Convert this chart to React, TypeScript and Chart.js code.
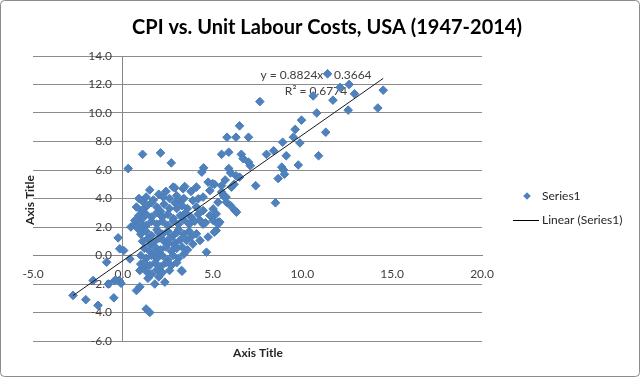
import React, { useEffect, useRef } from 'react';
import { Chart, registerables } from 'chart.js';

Chart.register(...registerables);

const chartTitle = 'CPI vs. Unit Labour Costs, USA (1947-2014)';
const xAxisTitle = 'Axis Title';
const yAxisTitle = 'Axis Title';
const seriesLabel = 'Series1';
const trendLabel = 'Linear (Series1)';

const xAxisMin = -5;
const xAxisMax = 20;
const xAxisStep = 5;
const yAxisMin = -6;
const yAxisMax = 14;
const yAxisStep = 2;

const trendSlope = 0.8824;
const trendIntercept = -0.3664;
const trendRSquared = 0.6774;
const trendXEnds = [-2.77, 14.5];

// Unit labour cost change (x) and CPI change (y)
const ulcGrowth = [
  // lower-left scatter
  -2.77, -2.06, -1.65, -1.38, -0.5, -0.8, -0.45, -0.2, -0.1, -0.9, -0.26, -0.17, 0.05, 0.4, 0.76, 0.95, 1.3, 1.5, 1.78, 2.34, 3.3, 1.13, 0.95,
  // upper-left scatter
  0.3, 1.1, 2.1, 2.7, 4.5, 4.4,
  // middle right
  5.5, 5.9, 5.8, 6.3, 6.5, 7.0, 5.9, 6.0, 6.6, 6.7, 7.0, 7.1, 6.3, 6.5, 5.7, 6.05, 5.5, 5.75, 6.2, 7.4,
  // upper right
  7.63, 8.0, 8.4, 8.9, 9.1, 8.85, 8.95, 9.0, 8.65, 8.5, 9.77, 9.6, 9.5, 9.86, 9.95, 10.8, 11.3, 10.9, 10.6, 11.4, 11.7, 12.1, 12.6, 12.9, 14.5, 14.2, 12.55,
  // cluster right edge
  4.75, 5.1, 5.5, 4.85, 5.6, 5.77, 6.24, 6.0, 5.3, 5.03, 5.03, 5.3, 6.33, 5.68, 5.2, 5.4, 5.2, 4.66, 4.75, 5.1, 5.3, 4.47, 4.3, 3.9, 3.27, 2.6, 5.0,
  // dense cluster
  1.5, 2.4, 2.8, 2.9, 3.36, 3.45, 3.8, 4.1,
  0.9, 1.1, 1.3, 1.7, 2.0, 2.25, 2.6, 3.0, 3.2, 3.4, 3.9, 4.2, 4.47,
  0.76, 1.04, 1.2, 1.35, 1.6, 1.9, 2.1, 2.3, 2.6, 2.9, 3.0, 3.3, 3.6, 4.1, 4.47,
  0.9, 1.1, 1.3, 1.6, 1.9, 2.2, 2.5, 2.8, 3.2, 3.5, 3.8, 4.2, 4.85,
  0.45, 0.67, 0.67, 0.85, 1.0, 1.15, 1.3, 1.6, 1.9, 2.2, 2.5, 2.8, 3.1, 3.4, 3.7, 4.0, 4.3, 4.6,
  1.0, 1.3, 1.6, 1.9, 2.0, 2.2, 2.5, 2.8, 3.0, 3.1, 3.4, 3.7, 4.1,
  1.1, 1.4, 1.5, 1.7, 2.0, 2.3, 2.5, 2.6, 2.9, 3.2, 3.55, 3.8,
  1.2, 1.5, 1.8, 1.9, 2.1, 2.4, 2.7, 2.9, 3.0, 3.3, 3.6,
  1.0, 1.3, 1.6, 1.9, 2.2, 2.5, 2.8, 3.1, 3.4,
  1.0, 1.2, 1.5, 1.8, 2.1, 2.4, 2.7, 3.0,
  1.3, 1.4, 1.6, 1.9, 2.0, 2.2,
];

const cpiGrowth = [
  // lower-left scatter
  -2.8, -3.1, -1.75, -3.5, -2.97, -2.0, -1.75, -1.75, -1.95, -0.47, 1.24, 0.47, 0.35, -0.24, -2.46, -2.2, -3.75, -4.0, -2.0, -1.87, -1.1, -0.8, -1.05,
  // upper-left scatter
  6.1, 7.1, 7.2, 6.5, 6.15, 5.85,
  // middle right
  7.1, 7.25, 8.3, 8.3, 9.1, 8.3, 6.1, 5.8, 7.1, 6.8, 6.55, 6.3, 5.6, 5.5, 5.3, 4.8, 4.45, 4.1, 5.0, 4.9,
  // upper right
  10.8, 7.1, 7.35, 7.95, 7.0, 6.2, 6.0, 5.7, 5.4, 3.7, 6.35, 8.85, 8.3, 7.9, 9.5, 10.0, 8.65, 7.0, 11.2, 12.75, 10.9, 11.8, 12.0, 11.35, 11.6, 10.35, 10.2,
  // cluster right edge
  5.15, 5.0, 4.9, 4.56, 4.2, 3.74, 3.16, 3.5, 3.74, 3.27, 2.46, 2.34, 3.04, 4.1, 1.75, 2.34, 2.92, 0.23, 1.3, 1.64, 2.2, 2.2, 1.05, 0.8, -1.05, -1.05, 5.05,
  // dense cluster
  4.6, 4.5, 4.8, 4.75, 4.68, 4.84, 4.5, 4.8,
  4.0, 3.8, 4.1, 3.9, 4.3, 4.1, 4.0, 4.2, 3.8, 4.0, 3.86, 3.98, 4.1,
  3.4, 3.16, 3.3, 3.5, 3.7, 3.4, 3.1, 3.6, 3.3, 3.7, 3.3, 3.5, 3.3, 3.4, 3.16,
  2.8, 2.6, 2.9, 2.7, 3.0, 2.7, 2.9, 2.6, 2.8, 3.0, 2.7, 2.9, 2.8,
  2.0, 2.2, 2.46, 1.87, 2.3, 2.0, 2.1, 2.4, 2.2, 2.4, 2.1, 2.4, 2.2, 2.5, 2.2, 2.4, 2.46, 2.3,
  1.5, 1.7, 1.4, 1.8, 1.6, 1.5, 1.7, 1.4, 1.6, 1.8, 1.5, 1.7, 1.52,
  1.0, 1.2, 0.8, 0.9, 1.2, 1.0, 0.85, 1.2, 0.9, 1.1, 1.05, 1.3,
  0.5, 0.3, 0.6, 0.2, 0.4, 0.6, 0.3, 0.7, 0.5, 0.6, 0.4,
  0.0, -0.2, 0.0, -0.2, 0.0, -0.3, 0.0, -0.2, 0.1,
  -0.6, -0.5, -0.7, -0.5, -0.8, -0.5, -0.7, -0.5,
  -1.1, -1.6, -1.3, -1.0, -1.5, -1.2,
];

const markerFill = '#4F81BD';
const markerBorder = '#4A7EBB';
const fontFamily = 'Lato, "Open Sans", sans-serif';

const overlayPlugin = {
  id: 'excelOverlay',
  beforeDraw(chart: any) {
    const ctx = chart.ctx as CanvasRenderingContext2D;
    ctx.save();
    ctx.fillStyle = '#ffffff';
    ctx.fillRect(0, 0, chart.width, chart.height);
    ctx.strokeStyle = '#8c8c8c';
    ctx.lineWidth = 1;
    ctx.beginPath();
    (ctx as any).roundRect(0.5, 0.5, chart.width - 1, chart.height - 1, 4);
    ctx.stroke();
    ctx.restore();
  },
  beforeDatasetsDraw(chart: any) {
    const ctx = chart.ctx as CanvasRenderingContext2D;
    ctx.save();
    ctx.fillStyle = '#404040';
    ctx.font = `12px ${fontFamily}`;
    ctx.textAlign = 'center';
    ctx.textBaseline = 'middle';
    const sign = trendIntercept < 0 ? '-' : '+';
    ctx.fillText(`y = ${trendSlope.toFixed(4)}x ${sign} ${Math.abs(trendIntercept).toFixed(4)}`, 316, 75);
    ctx.fillText(`R² = ${trendRSquared.toFixed(4)}`, 316, 91);
    ctx.restore();
  },
  afterDraw(chart: any) {
    const ctx = chart.ctx as CanvasRenderingContext2D;
    ctx.save();
    // title
    ctx.fillStyle = '#000000';
    ctx.textAlign = 'center';
    ctx.textBaseline = 'middle';
    ctx.font = `bold 20px ${fontFamily}`;
    ctx.fillText(chartTitle, 327, 28);
    // axis titles
    ctx.font = `bold 12px ${fontFamily}`;
    ctx.fillStyle = '#262626';
    ctx.fillText(xAxisTitle, 258, 353);
    ctx.save();
    ctx.translate(30, 200);
    ctx.rotate(-Math.PI / 2);
    ctx.fillText(yAxisTitle, 0, 0);
    ctx.restore();
    // legend
    ctx.font = `12px ${fontFamily}`;
    ctx.textAlign = 'left';
    ctx.fillStyle = '#262626';
    const dx = 527, dy = 196, r = 3.8;
    ctx.beginPath();
    ctx.moveTo(dx - r, dy);
    ctx.lineTo(dx, dy - r);
    ctx.lineTo(dx + r, dy);
    ctx.lineTo(dx, dy + r);
    ctx.closePath();
    ctx.fillStyle = markerFill;
    ctx.fill();
    ctx.fillStyle = '#262626';
    ctx.fillText(seriesLabel, 542, 196);
    ctx.strokeStyle = '#000000';
    ctx.lineWidth = 1;
    ctx.beginPath();
    ctx.moveTo(513, 220.5);
    ctx.lineTo(539, 220.5);
    ctx.stroke();
    ctx.fillText(trendLabel, 542, 220);
    ctx.restore();
  },
};

export default function App() {
  const canvasRef = useRef<HTMLCanvasElement>(null);

  useEffect(() => {
    const canvas = canvasRef.current;
    if (!canvas) return;
    Chart.defaults.font.family = fontFamily;
    const points = ulcGrowth.map((x, i) => ({ x, y: cpiGrowth[i] }));
    const trendPoints = trendXEnds.map((x) => ({ x, y: trendSlope * x + trendIntercept }));

    const chart = new Chart(canvas, {
      type: 'scatter',
      data: {
        datasets: [
          {
            label: trendLabel,
            data: trendPoints,
            type: 'line',
            showLine: true,
            borderColor: '#1a1a1a',
            borderWidth: 1,
            pointRadius: 0,
            fill: false,
            order: 0,
            xAxisID: 'x',
            yAxisID: 'y',
          } as any,
          {
            label: seriesLabel,
            data: points,
            pointStyle: 'rectRot',
            pointRadius: 4.3,
            backgroundColor: markerFill,
            borderColor: markerBorder,
            borderWidth: 1,
            order: 1,
            xAxisID: 'x',
            yAxisID: 'y',
          },
        ],
      },
      options: {
        responsive: false,
        animation: false,
        events: [],
        layout: { padding: { left: 33, right: 158, top: 56, bottom: 36 } },
        plugins: {
          legend: { display: false },
          title: { display: false },
          tooltip: { enabled: false },
        },
        scales: {
          x: {
            type: 'linear',
            axis: 'x',
            min: xAxisMin,
            max: xAxisMax,
            position: { y: 0 } as any,
            grid: { color: 'rgba(0,0,0,0)', drawTicks: false },
            border: { display: true, color: '#868686', width: 1 },
            ticks: {
              stepSize: xAxisStep,
              autoSkip: false,
              maxRotation: 0,
              padding: 11,
              color: '#404040',
              font: { size: 12 },
              callback: (v: any) => Number(v).toFixed(1),
            },
          },
          y: {
            type: 'linear',
            axis: 'y',
            min: yAxisMin,
            max: yAxisMax,
            position: { x: 0 } as any,
            grid: { color: '#8c8c8c', drawTicks: false },
            border: { display: true, color: '#868686', width: 1 },
            ticks: { stepSize: yAxisStep, display: false },
          },
          y2: {
            type: 'linear',
            axis: 'y',
            min: yAxisMin,
            max: yAxisMax,
            position: { x: -0.6 } as any,
            grid: { display: false, drawTicks: false },
            border: { display: false },
            ticks: {
              stepSize: yAxisStep,
              autoSkip: false,
              color: '#404040',
              font: { size: 12 },
              callback: (v: any) => Number(v).toFixed(1),
            },
          },
        },
      } as any,
      plugins: [overlayPlugin],
    });
    return () => chart.destroy();
  }, []);

  return (
    <div style={{ position: 'absolute', left: 0, top: 0, width: 640, height: 377 }}>
      <canvas ref={canvasRef} width={640} height={377} style={{ display: 'block', width: 640, height: 377 }} />
    </div>
  );
}
